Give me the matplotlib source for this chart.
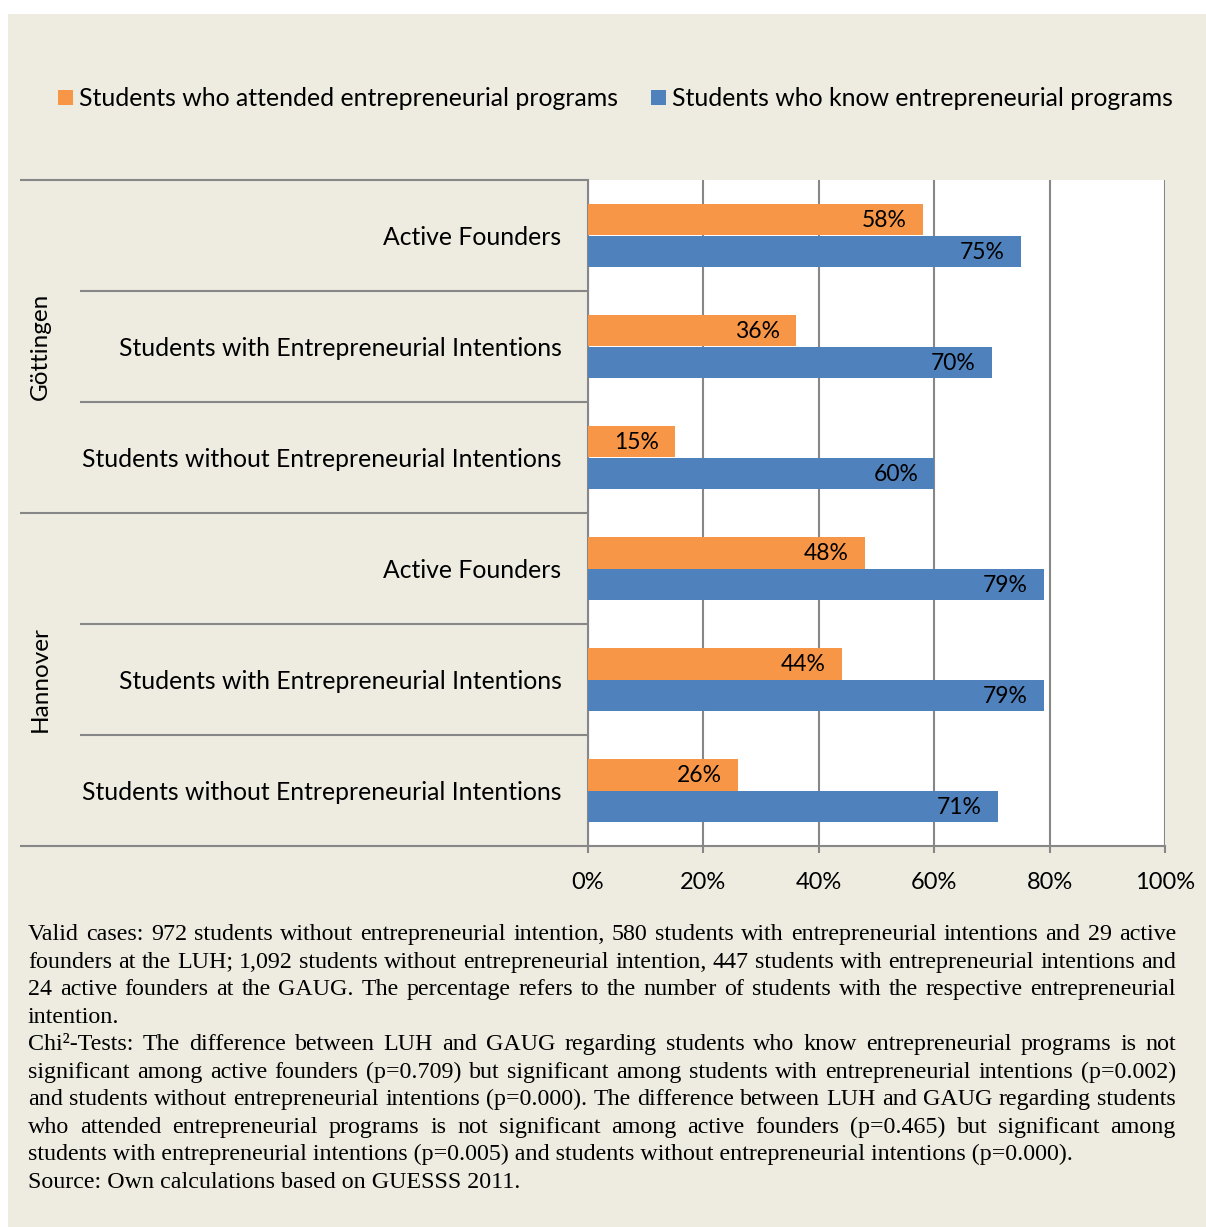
import matplotlib
matplotlib.use("Agg")
import matplotlib.pyplot as plt
from matplotlib.patches import Rectangle

W, H = 1206, 1227

groups = ["Göttingen", "Hannover"]
categories = [
    "Active Founders",
    "Students with Entrepreneurial Intentions",
    "Students without Entrepreneurial Intentions",
]
series_names = [
    "Students who attended entrepreneurial programs",
    "Students who know entrepreneurial programs",
]
# Göttingen rows first, then Hannover (top to bottom)
attended = [58, 36, 15, 48, 44, 26]
know = [75, 70, 60, 79, 79, 71]
xticks = [0, 20, 40, 60, 80, 100]

notes = [
    ("Valid cases: 972 students without entrepreneurial intention, 580 students with entrepreneurial intentions and 29 active", True),
    ("founders at the LUH; 1,092 students without entrepreneurial intention, 447 students with entrepreneurial intentions and", True),
    ("24 active founders at the GAUG. The percentage refers to the number of students with the respective entrepreneurial", True),
    ("intention.", False),
    ("Chi²-Tests: The difference between LUH and GAUG regarding students who know entrepreneurial programs is not", True),
    ("significant among active founders (p=0.709) but significant among students with entrepreneurial intentions (p=0.002)", True),
    ("and students without entrepreneurial intentions (p=0.000). The difference between LUH and GAUG regarding students", True),
    ("who attended entrepreneurial programs is not significant among active founders (p=0.465) but significant among", True),
    ("students with entrepreneurial intentions (p=0.005) and students without entrepreneurial intentions (p=0.000).", False),
    ("Source: Own calculations based on GUESSS 2011.", False),
]

ORANGE = "#F79646"
BLUE = "#4F81BD"
BEIGE = "#EEECE1"
GRID = "#878787"
SANS = "Lato"
SERIF = "Liberation Serif"


def fx(px):
    return px / W


def fy(py):
    return 1 - py / H


fig = plt.figure(figsize=(W / 100, H / 100), dpi=100, facecolor="white")
fig.patches.append(Rectangle((fx(8), 0), 1 - fx(8), fy(14), transform=fig.transFigure,
                             facecolor=BEIGE, edgecolor="none", zorder=-10))

ax = fig.add_axes([fx(588), fy(846), fx(1165) - fx(588), fy(180) - fy(846)])
ax.set_facecolor("white")

rows = list(range(len(attended)))
bh = 0.28
ax.barh([r - bh / 2 for r in rows], attended, height=bh, color=ORANGE, zorder=3)
ax.barh([r + bh / 2 for r in rows], know, height=bh, color=BLUE, zorder=3)

for r, v in zip(rows, attended):
    ax.annotate(f"{v}%", (v, r - bh / 2), xytext=(-16, -1), textcoords="offset pixels",
                ha="right", va="center", fontsize=16.5, family=SANS, zorder=4)
for r, v in zip(rows, know):
    ax.annotate(f"{v}%", (v, r + bh / 2), xytext=(-16, -1), textcoords="offset pixels",
                ha="right", va="center", fontsize=16.5, family=SANS, zorder=4)

ax.set_xlim(0, 100)
ax.set_ylim(len(rows) - 0.5, -0.5)
ax.set_xticks(xticks, labels=[f"{t}%" for t in xticks], fontsize=17, family=SANS)
ax.set_yticks(rows, labels=categories * len(groups), fontsize=17.8, family=SANS)
ax.tick_params(axis="x", length=5, width=1.5, color=GRID, pad=13.5)
ax.tick_params(axis="y", length=0, pad=19)
ax.xaxis.grid(True, color=GRID, linewidth=1.5)
ax.set_axisbelow(True)
for side in ("top", "right"):
    ax.spines[side].set_visible(False)
for side in ("left", "bottom"):
    ax.spines[side].set_color(GRID)
    ax.spines[side].set_linewidth(1.5)

# category separators on the left: long ones bound the groups
ytrans = ax.get_yaxis_transform()
axw = fx(1165) - fx(588)
ax.hlines([-0.5, 2.5, 5.5], -(fx(588) - fx(20)) / axw, 0, transform=ytrans,
          color=GRID, linewidth=1.5, clip_on=False)
ax.hlines([0.5, 1.5, 3.5, 4.5], -(fx(588) - fx(80)) / axw, 0, transform=ytrans,
          color=GRID, linewidth=1.5, clip_on=False)

for i, g in enumerate(groups):
    yc = 180 + (i + 0.5) * 333
    fig.text(fx(40), fy(yc), g, rotation=90, ha="center", va="center",
             fontsize=17.5, family=SANS)

# legend
for x0, name, col in [(58, series_names[0], ORANGE), (651, series_names[1], BLUE)]:
    fig.patches.append(Rectangle((fx(x0), fy(105)), fx(15), fy(90) - fy(105),
                                 transform=fig.transFigure, facecolor=col, edgecolor="none"))
    fig.text(fx(x0 + 21), fy(98), name, ha="left", va="center", fontsize=17.9, family=SANS)

# footnote, justified between x=28 and x=1176
renderer = fig.canvas.get_renderer()
left, right = 28, 1176
for i, (line, justify) in enumerate(notes):
    y = fy(940 + i * 27.55)
    if not justify:
        fig.text(fx(left), y, line, ha="left", va="baseline", fontsize=17.3, family=SERIF)
        continue
    words = line.split(" ")
    items = [fig.text(0, y, w, ha="left", va="baseline", fontsize=17.3, family=SERIF)
             for w in words]
    widths = [t.get_window_extent(renderer).width for t in items]
    gap = (right - left - sum(widths)) / (len(words) - 1)
    x = left
    for t, w in zip(items, widths):
        t.set_x(fx(x))
        x += w + gap

fig.savefig("out.png", dpi=100, facecolor="white")
